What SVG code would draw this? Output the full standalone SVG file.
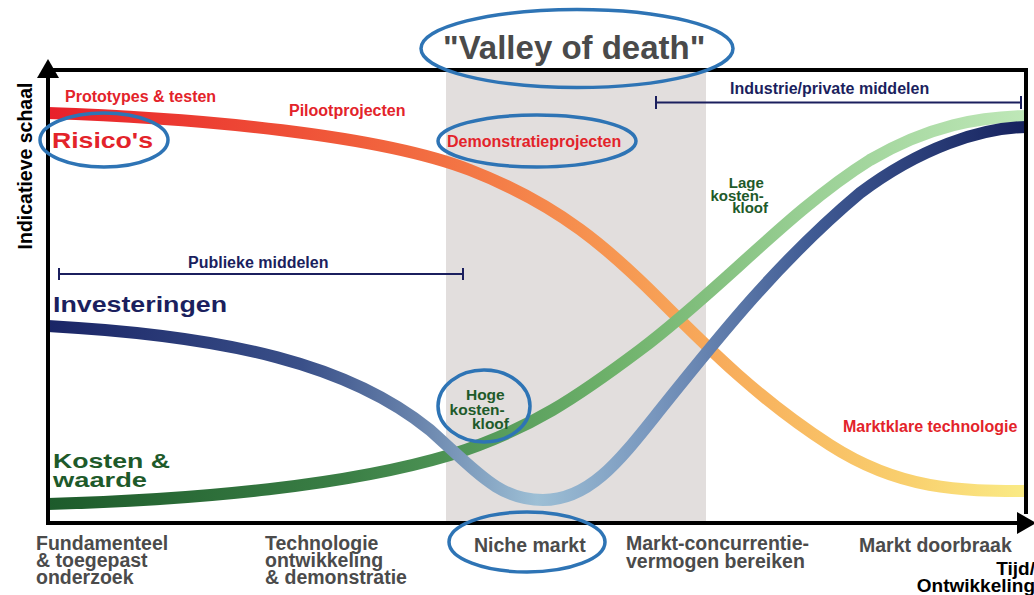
<svg xmlns="http://www.w3.org/2000/svg" width="1034" height="595" viewBox="0 0 1034 595">
<style>
text{font-family:"Liberation Sans",Arial,sans-serif;font-weight:bold}
.red{fill:#e3232a;font-size:16px}
.navy{fill:#1b1f5e}
.green{fill:#1e5a2a}
.gray{fill:#4b4b4b;font-size:19.5px}
.ell{fill:none;stroke:#2e74b5;stroke-width:3.5}
.curve{fill:none;stroke-width:12;stroke-linecap:butt}
.axis{stroke:#000;stroke-width:4;fill:none}
.bracket{stroke:#1b1f5e;stroke-width:2;fill:none}
</style>
<defs>
<linearGradient id="gRed" gradientUnits="userSpaceOnUse" x1="48" y1="0" x2="1026" y2="0">
<stop offset="0" stop-color="#e8202a"/>
<stop offset="0.3" stop-color="#f05a3a"/>
<stop offset="0.55" stop-color="#f6914f"/>
<stop offset="0.72" stop-color="#f8b25e"/>
<stop offset="0.88" stop-color="#f9d06e"/>
<stop offset="1" stop-color="#faeb86"/>
</linearGradient>
<linearGradient id="gNavy" gradientUnits="userSpaceOnUse" x1="48" y1="0" x2="1026" y2="0">
<stop offset="0" stop-color="#1a2566"/>
<stop offset="0.26" stop-color="#3a5089"/>
<stop offset="0.38" stop-color="#6a85ad"/>
<stop offset="0.5" stop-color="#9dbfd5"/>
<stop offset="0.62" stop-color="#7896bd"/>
<stop offset="0.78" stop-color="#405b94"/>
<stop offset="1" stop-color="#16225e"/>
</linearGradient>
<linearGradient id="gGreen" gradientUnits="userSpaceOnUse" x1="48" y1="0" x2="1026" y2="0">
<stop offset="0" stop-color="#1d5b2b"/>
<stop offset="0.3" stop-color="#3a7e45"/>
<stop offset="0.42" stop-color="#4f9556"/>
<stop offset="0.58" stop-color="#6fb26b"/>
<stop offset="0.78" stop-color="#9ad095"/>
<stop offset="1" stop-color="#bfe8b8"/>
</linearGradient>
</defs>
<rect width="1034" height="595" fill="#fff"/>

<g id="valley-band">
<rect x="446" y="71" width="260" height="450" fill="#e2dedd"/>
</g>

<g id="connectors">
<path id="curve-risico" class="curve" stroke="url(#gRed)" d="M48,113 C200,118 380,135 470,170 C560,205 610,250 660,300 C710,350 760,400 830,445 C900,490 960,491 1026,491"/>
<path id="curve-kosten" class="curve" stroke="url(#gGreen)" d="M48,504 C200,500 350,485 450,455 C530,430 580,395 640,350 C720,290 790,210 870,160 C930,125 980,117 1026,116"/>
<path id="curve-invest" class="curve" stroke="url(#gNavy)" d="M48,326 C230,336 350,365 430,430 C480,475 500,500 543,500 C590,500 620,460 660,410 C720,335 780,260 860,193 C920,148 980,128 1026,127"/>
</g>

<g id="axes">
<line class="axis" x1="48" y1="70" x2="1026" y2="70"/>
<line class="axis" x1="1026" y1="68" x2="1026" y2="514"/>
<line class="axis" x1="48" y1="523" x2="48" y2="74"/>
<line class="axis" x1="46" y1="523" x2="1022" y2="523"/>
<polygon points="48,59 37,78 59,78" fill="#000"/>
<polygon points="1036,523 1017,512 1017,534" fill="#000"/>
<text x="32" y="166" transform="rotate(-90 32 166)" text-anchor="middle" style="font-size:19.5px" fill="#000">Indicatieve schaal</text>
<text x="1035" y="575" text-anchor="end" style="font-size:19px" fill="#000">Tijd/</text>
<text x="1035" y="592" text-anchor="end" style="font-size:19px" fill="#000">Ontwikkeling</text>
</g>

<g id="title">
<text x="443" y="59" style="font-size:33px" fill="#4a4a4a">"Valley of death"</text>
<ellipse class="ell" cx="577" cy="48.5" rx="156" ry="39"/>
</g>

<g id="risico">
<text x="52" y="148" class="red" style="font-size:22px" textLength="101" lengthAdjust="spacingAndGlyphs">Risico's</text>
<ellipse class="ell" cx="104" cy="140" rx="64" ry="27"/>
</g>
<g id="prototypes"><text x="65" y="102" class="red">Prototypes &amp; testen</text></g>
<g id="piloot"><text x="289" y="116" class="red">Pilootprojecten</text></g>
<g id="demonstratie">
<text x="447" y="147" class="red">Demonstratieprojecten</text>
<ellipse class="ell" cx="537" cy="141" rx="99" ry="26"/>
</g>
<g id="marktklaar"><text x="843" y="432" class="red">Marktklare technologie</text></g>

<g id="industrie">
<text x="730" y="94" class="navy" style="font-size:16px">Industrie/private middelen</text>
<path class="bracket" d="M656,102.5 H1021 M656,96 V109 M1021,96 V109"/>
</g>
<g id="publiek">
<text x="188" y="268" class="navy" style="font-size:16px">Publieke middelen</text>
<path class="bracket" d="M59,274 H463 M59,268 V280 M463,268 V280"/>
</g>

<g id="investeringen">
<text x="53" y="312" class="navy" style="font-size:22px" textLength="174" lengthAdjust="spacingAndGlyphs">Investeringen</text>
</g>
<g id="kosten">
<text x="53" y="468" class="green" style="font-size:21px" textLength="117" lengthAdjust="spacingAndGlyphs">Kosten &amp;</text>
<text x="53" y="487" class="green" style="font-size:21px" textLength="94" lengthAdjust="spacingAndGlyphs">waarde</text>
</g>

<g id="hoge-kloof">
<text class="green" style="font-size:15.5px" text-anchor="end">
<tspan x="509" y="400">Hoge</tspan>
<tspan x="509" y="415">kosten-</tspan>
<tspan x="509" y="429">kloof</tspan>
</text>
<ellipse class="ell" cx="484" cy="406" rx="46" ry="36"/>
</g>
<g id="lage-kloof">
<text class="green" style="font-size:15px" text-anchor="end">
<tspan x="768" y="188">Lage</tspan>
<tspan x="768" y="200.5">kosten-</tspan>
<tspan x="768" y="213">kloof</tspan>
</text>
</g>

<g id="fundamenteel">
<text class="gray"><tspan x="36" y="550">Fundamenteel</tspan><tspan x="36" y="567">&amp; toegepast</tspan><tspan x="36" y="584">onderzoek</tspan></text>
</g>
<g id="technologie">
<text class="gray"><tspan x="265" y="550">Technologie</tspan><tspan x="265" y="567">ontwikkeling</tspan><tspan x="265" y="584">&amp; demonstratie</tspan></text>
</g>
<g id="niche">
<text x="474" y="552" class="gray">Niche markt</text>
<ellipse class="ell" cx="527" cy="542" rx="78" ry="30"/>
</g>
<g id="concurrentie">
<text class="gray"><tspan x="626" y="550">Markt-concurrentie-</tspan><tspan x="626" y="568">vermogen bereiken</tspan></text>
</g>
<g id="doorbraak"><text x="859" y="552" class="gray">Markt doorbraak</text></g>
</svg>
